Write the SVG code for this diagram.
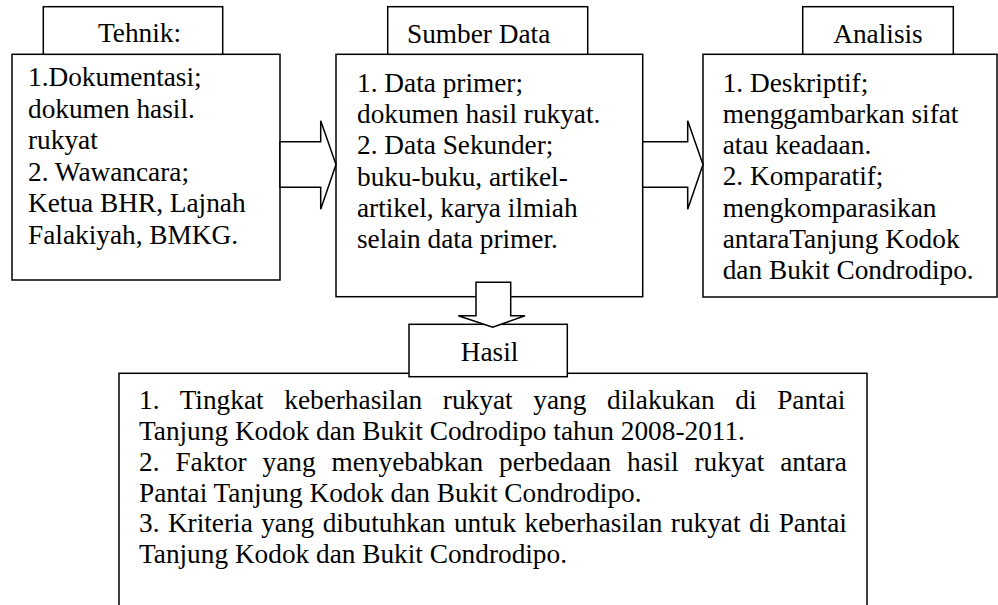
<svg xmlns="http://www.w3.org/2000/svg" width="998" height="605" viewBox="0 0 998 605">
<style>
.box{fill:#fff;stroke:#000;stroke-width:1.5}
.arrow{fill:#fff;stroke:#000;stroke-width:1.5;stroke-linejoin:miter}
.t{font-family:"Liberation Serif","Times New Roman",serif;font-size:27.3px;fill:#000}
.c{text-anchor:middle}
</style>
<rect width="998" height="605" fill="#fff"/>
<g id="tehnik">
<rect class="box" x="12" y="54.3" width="268" height="225.7"/>
<rect class="box" x="43.3" y="6.7" width="179.4" height="47.6"/>
<text class="t c" x="139.5" y="42.3">Tehnik:</text>
<text class="t" x="28">
<tspan x="28" y="86">1.Dokumentasi;</tspan>
<tspan x="28" y="117.5">dokumen hasil.</tspan>
<tspan x="28" y="149">rukyat</tspan>
<tspan x="28" y="180.5">2. Wawancara;</tspan>
<tspan x="28" y="212">Ketua BHR, Lajnah</tspan>
<tspan x="28" y="243.5">Falakiyah, BMKG.</tspan>
</text>
</g>
<g id="sumber">
<rect class="box" x="336" y="54.3" width="306.7" height="242.4"/>
<rect class="box" x="387.7" y="6.7" width="200" height="47.6"/>
<text class="t" x="407" y="42.7">Sumber Data</text>
<text class="t">
<tspan x="357" y="91.7">1. Data primer;</tspan>
<tspan x="357" y="123">dokumen hasil rukyat.</tspan>
<tspan x="357" y="154.3">2. Data Sekunder;</tspan>
<tspan x="357" y="185.6">buku-buku, artikel-</tspan>
<tspan x="357" y="217">artikel, karya ilmiah</tspan>
<tspan x="357" y="248.3">selain data primer.</tspan>
</text>
</g>
<g id="analisis">
<rect class="box" x="703" y="54.3" width="294" height="242.7"/>
<rect class="box" x="802.7" y="6.7" width="150.6" height="47.6"/>
<text class="t c" x="878" y="42.5">Analisis</text>
<text class="t">
<tspan x="722.7" y="91.7">1. Deskriptif;</tspan>
<tspan x="722.7" y="122.9">menggambarkan sifat</tspan>
<tspan x="722.7" y="154.1">atau keadaan.</tspan>
<tspan x="722.7" y="185.3">2. Komparatif;</tspan>
<tspan x="722.7" y="216.5">mengkomparasikan</tspan>
<tspan x="722.7" y="247.7">antaraTanjung Kodok</tspan>
<tspan x="722.7" y="278.9">dan Bukit Condrodipo.</tspan>
</text>
</g>
<g id="hasil">
<rect class="box" x="119" y="373.3" width="748" height="250"/>
<rect class="box" x="409" y="324.3" width="158.3" height="52.4"/>
<text class="t c" x="489.5" y="360.7">Hasil</text>
<text class="t">
<tspan x="139" y="409.3" word-spacing="13.84">1. Tingkat keberhasilan rukyat yang dilakukan di Pantai</tspan>
<tspan x="139" y="440">Tanjung Kodok dan Bukit Codrodipo tahun 2008-2011.</tspan>
<tspan x="139" y="471" word-spacing="9.08">2. Faktor yang menyebabkan perbedaan hasil rukyat antara</tspan>
<tspan x="139" y="501.7">Pantai Tanjung Kodok dan Bukit Condrodipo.</tspan>
<tspan x="139" y="532.3" word-spacing="1.59">3. Kriteria yang dibutuhkan untuk keberhasilan rukyat di Pantai</tspan>
<tspan x="139" y="563.3">Tanjung Kodok dan Bukit Condrodipo.</tspan>
</text>
</g>
<g id="connectors">
<polygon class="arrow" points="280,141.7 320.7,141.7 320.7,120.7 336,164.5 320.7,209.3 320.7,187.3 280,187.3"/>
<polygon class="arrow" points="642.7,141.7 687.7,141.7 687.7,120.7 703,164.5 687.7,209.3 687.7,187.3 642.7,187.3"/>
<polygon class="arrow" points="476,282.3 510.7,282.3 510.7,315.7 525,315.7 492.7,327.3 458.3,315.7 476,315.7"/>
</g>
</svg>
